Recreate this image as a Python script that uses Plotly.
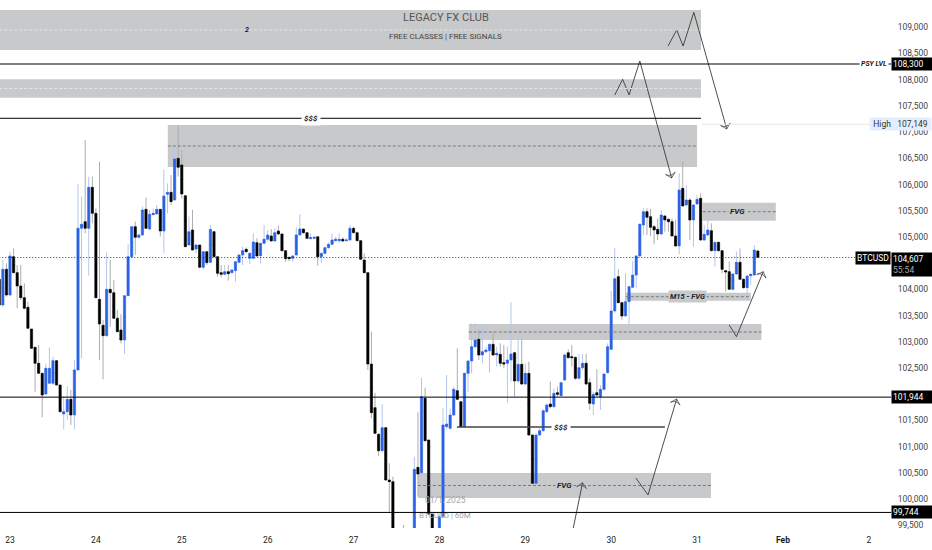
import numpy as np
import plotly.graph_objects as go

opens = [104192,103702,104383,103893,104624,104319,104065,103842,103658,103244,102894,102589,102398,102004,102207,102207,102640,102176,101622,101667,101902,101603,102462,105165,105292,105165,105947,105451,103810,103314,103117,104001,103937,103448,103225,103034,103880,104624,105197,104993,105038,105527,105152,105426,105438,105527,105114,105813,105852,105705,106500,106373,105788,104847,105133,104771,104847,104421,104720,104516,105101,104624,104319,104287,104338,104319,104357,104516,104656,104764,104592,104592,104891,104643,104879,104955,105019,104923,105114,105057,104739,104611,104592,104656,105038,105152,105082,104967,104974,105005,104624,104687,104796,104859,104929,104929,104955,104929,104942,105164,105082,104929,104560,104319,102576,101743,101234,100922,101361,100363,100331,99280,98950,99100,99000,98900,99250,100604,100503,101921,101126,99714,99281,99281,99663,101380,101349,101603,102067,101857,101380,102398,102633,102907,103047,102748,102811,102830,102951,102748,102760,102601,102589,102652,102792,102252,102569,102194,102398,101221,100299,101221,101304,101666,101813,101762,102029,101972,102271,102792,102716,102703,102303,102506,102589,102220,101813,102029,101953,102093,102411,102856,103588,104243,103747,103492,103766,104039,104274,104637,105228,105483,105387,105197,105146,105057,105400,105337,105292,105019,104828,105928,105610,105705,105324,105629,105737,104942,105038,105120,104739,104898,104739,104357,104338,104001,104294,104516,104192,104033,104262,104274,104732]
highs = [104306,104561,104497,104720,104783,104465,104465,104115,103766,103244,102907,102939,102398,102589,102894,102716,102653,102176,101953,102144,102080,102653,106011,105769,106850,106151,106151,105546,106437,103416,104707,104561,104179,103607,103524,103880,104866,105197,105292,105069,105578,105750,105515,105546,105610,105527,106291,106023,106182,106723,107136,106659,105788,105387,105515,104860,104847,104720,104720,105228,105114,104624,104465,104465,104465,104383,104529,104675,104815,104802,104700,105069,104974,104891,105228,105133,105152,105165,105216,105069,104751,104624,104656,105184,105438,105165,105095,105069,105018,105005,104700,104815,104891,105069,105005,105069,104993,104974,105228,105196,105101,104942,104687,104331,103193,102029,101253,101813,101380,100681,100426,99350,99300,99504,99250,99380,100808,101654,102315,102124,101138,99730,99400,99700,101730,102366,101730,102144,102875,101870,102411,102652,103352,103352,103225,103320,102907,102970,103193,102907,102970,102939,102907,103753,102811,103066,103047,102589,102620,101234,101253,101349,101711,101825,102239,102112,102144,102239,102779,102856,102939,102716,102767,102767,102767,102303,102048,102474,102175,102398,102970,103969,104783,104383,103766,104306,104065,104541,104656,105260,105546,105546,105534,105228,105355,105515,105419,105355,105355,105324,106214,106437,105992,105737,105629,105801,105833,105228,105355,105260,104911,104911,104751,104370,104529,104306,104720,104783,104211,104274,104306,104847,104751]
lows = [103352,103670,103861,103874,104306,103638,103797,103619,103244,102862,102048,102385,101559,101985,102195,102176,102163,101648,101330,101508,101412,101330,102449,102684,105069,104262,105260,103829,102653,102284,103098,103289,103435,103180,102971,102767,103874,104592,104656,104974,105019,105152,105133,105413,105419,105006,104688,105451,105610,105693,106151,105737,104802,104834,104739,104688,104402,104383,104465,104497,104611,104243,104230,104268,104166,104300,104147,104497,104465,104700,104484,104573,104624,104497,104866,104911,104911,104911,105038,104720,104529,104541,104529,104637,105019,105057,104955,104955,104955,104452,104497,104668,104776,104846,104910,104891,104904,104916,104929,105069,104916,104560,104306,102461,101539,101240,100821,100903,100350,99739,99150,98800,98800,98850,98700,98750,99150,100045,100458,101094,99695,99100,99050,99150,99650,101349,101329,101584,101889,101368,101361,102048,102398,102875,102652,102589,102779,102411,102729,102525,102525,102493,101838,102239,101953,102220,102175,102175,101202,100286,100280,101202,101285,101635,101730,101743,101953,101953,102258,102678,102525,102271,102283,102461,102175,101698,101603,101953,101698,102067,102398,102843,103556,103734,103416,103479,103320,104020,104020,104624,105038,105038,105019,104860,104942,105038,105101,105101,105006,104815,104669,105578,105591,104942,104815,105610,104930,104923,105019,104720,104433,104720,104306,103956,103988,103975,104274,104179,104014,103925,104084,104255,104598]
closes = [103702,104383,103893,104637,104319,104065,103842,103638,103257,102875,102589,102398,101985,102494,102494,102640,102176,101667,101667,101902,101603,102462,105165,105241,105165,105947,105451,103842,103339,103117,104001,103937,103448,103193,103034,103880,104624,105197,104993,105038,105515,105165,105432,105451,105527,105114,105782,105852,105674,106488,106329,105820,104815,105101,104751,104847,104421,104720,104510,105146,104624,104306,104287,104338,104300,104370,104529,104656,104739,104720,104688,104904,104637,104879,104955,105038,104923,105082,105057,104739,104586,104586,104637,105038,105152,105082,104974,104986,104993,104624,104687,104796,104859,104942,104955,104955,104923,104942,105164,105082,104929,104573,104319,102576,101647,101253,100922,101361,100363,100331,99281,98950,99100,99000,98900,99250,100566,100477,101953,101113,99714,99281,99150,99663,101412,101431,101603,102093,101902,101380,102398,102633,102907,103034,102748,102811,102843,102951,102748,102779,102589,102576,102652,102767,102252,102569,102194,102398,101221,100299,101221,101304,101685,101794,101762,102016,101997,102220,102748,102697,102697,102303,102506,102589,102194,101825,101997,101984,102093,102385,102907,103588,104204,103747,103492,103766,104052,104274,104637,105241,105483,105375,105184,105133,105057,105419,105324,105292,105019,104828,105896,105591,105705,105324,105610,105718,104942,105050,105133,104739,104898,104739,104382,104332,104001,104294,104516,104192,104033,104255,104287,104751,104611]

first_hour = -3
hours = np.arange(len(opens)) + first_hour
day_ticks = [0, 24, 48, 72, 96, 120, 144, 168, 192, 216, 240]
day_labels = ["23", "24", "25", "26", "27", "28", "29", "30", "31", "<b>Feb</b>", "2"]
price_ticks = list(range(99500, 110000, 500))
hidden_ticks = {102000, 104500}
price_labels = ["" if p in hidden_ticks else f"{p:,}" for p in price_ticks]

ZONE = "#c8c9cb"
zones = [
    (-3, 193.1, 108567, 109330, "#e4e4e4"),
    (-3, 193.1, 107657, 108008, "#e4e4e4"),
    (44.1, 192.0, 106335, 107136, "#77797c"),
    (193.6, 214.0, 105310, 105654, "#77797c"),
    (172.1, 207.0, 103784, 103936, "#77797c"),
    (128.2, 210.0, 103034, 103339, "#77797c"),
    (114.0, 195.9, 100019, 100496, "#77797c"),
]
levels = [(-3, 246.2, 108300), (-3, 246.2, 101944), (-3, 246.2, 99744), (-3, 193.1, 107264)]
paths = [
    ([183.9, 186.3, 188.1, 191.1, 200.3], [108643, 108949, 108643, 109286, 107060]),
    ([169.0, 171.2, 173.0, 176.0, 184.9], [107709, 108008, 107709, 108357, 106125]),
    ([201.0, 203.0, 210.5], [103320, 103097, 104337]),
    ([174.9, 178.3, 186.3], [100401, 100077, 101908]),
    ([157.3, 160.0], [99409, 100311]),
]

BLUE, BLACK = "#2a62e6", "#000000"
o, h, l, c = map(np.array, (opens, highs, lows, closes))
up = c >= o
mid = (o + c) / 2
sign = np.where(up, 1, -1)

fig = go.Figure()
fig.add_trace(go.Candlestick(
    x=hours, open=mid - sign, close=mid + sign, high=h, low=l,
    increasing=dict(line=dict(color="#b4c6ee", width=1), fillcolor="#b4c6ee"),
    decreasing=dict(line=dict(color="#adadad", width=1), fillcolor="#adadad"),
    whiskerwidth=0, hoverinfo="skip", showlegend=False))
fig.add_trace(go.Candlestick(
    x=hours, open=o, close=c, high=np.maximum(o, c), low=np.minimum(o, c),
    increasing=dict(line=dict(color=BLUE, width=0.6), fillcolor=BLUE),
    decreasing=dict(line=dict(color=BLACK, width=0.6), fillcolor=BLACK),
    whiskerwidth=0, hoverinfo="skip", showlegend=False))

for px_, py_ in paths:
    n = len(px_)
    fig.add_trace(go.Scatter(
        x=px_, y=py_, mode="lines+markers", showlegend=False, hoverinfo="skip",
        line=dict(color="#3a3a3a", width=0.9),
        marker=dict(symbol="arrow-wide-open", angleref="previous", color="#3a3a3a",
                    size=[0] * (n - 1) + [7], line=dict(color="#3a3a3a", width=1))))

shapes = []
for x0, x1, y0, y1, dash_col in zones:
    shapes.append(dict(type="rect", x0=x0, x1=x1, y0=y0, y1=y1, layer="below",
                       fillcolor=ZONE, line=dict(width=0)))
    m = (y0 + y1) / 2
    shapes.append(dict(type="line", x0=x0, x1=x1, y0=m, y1=m,
                       line=dict(color=dash_col, width=1, dash="3px,2px")))
for x0, x1, y in levels:
    shapes.append(dict(type="line", x0=x0, x1=x1, y0=y, y1=y, line=dict(color="#000", width=1)))
shapes.append(dict(type="line", x0=124.9, x1=183.0, y0=101374, y1=101374, line=dict(color="#444", width=1.4)))
shapes.append(dict(type="line", x0=-3, x1=246.2, y0=104607, y1=104607, line=dict(color="#333", width=1, dash="1px,2px")))
shapes.append(dict(type="line", x0=193.3, x1=246.2, y0=107149, y1=107149, line=dict(color="#e6e6e6", width=1)))

FONT = "Roboto, Arial, sans-serif"
def note(x, y, text, size=8, color="#222", bg=None, **kw):
    return dict(x=x, y=y, text=text, showarrow=False, bgcolor=bg, borderpad=kw.pop("pad", 1),
                font=dict(family=FONT, size=size, color=color), **kw)

def tag(y, text, **kw):
    return dict(xref="paper", x=1, y=y, text=text, showarrow=False, xanchor="left",
                bgcolor="#000", width=39, borderpad=1, align="left",
                font=dict(family=FONT, size=8.5, color="#fff"), **kw)

annotations = [
    note(121.8, 109178, "LEGACY FX CLUB", size=11, color="#555"),
    note(121.8, 108834, "FREE CLASSES | FREE SIGNALS", size=8, color="#444"),
    note(66.2, 108958, "<b><i>2</i></b>", size=7),
    note(84.1, 107264, "<b><i>$$$</i></b>", bg="#fff", pad=2),
    note(154, 101374, "<b><i>$$$</i></b>", bg="#fff", pad=2),
    note(203.4, 105486, "<b><i>FVG</i></b>", bg=ZONE),
    note(189.4, 103860, "<b><i>M15 - FVG</i></b>", bg=ZONE, size=7.5),
    note(155, 100255, "<b><i>FVG</i></b>", bg=ZONE),
    note(241.4, 108300, "<b><i>PSY LVL</i></b>", bg="#fff", size=7),
    note(121.8, 99981, "01/1/2025", size=8.5, color="#a5a5a5"),
    note(121.5, 99695, "BTCUSD | 60M", size=8, color="#a5a5a5"),
    tag(108300, "108,300"),
    tag(101944, "101,944"),
    tag(99744, "99,744"),
    tag(104713, "104,607<br><span style='color:#aaa'>55:54</span>", yanchor="top"),
    dict(xref="paper", x=1, y=104607, text="BTCUSD", showarrow=False, xanchor="right", bgcolor="#000",
         borderpad=1, font=dict(family=FONT, size=8.5, color="#fff")),
    dict(xref="paper", x=1, y=107149, text="High&nbsp;&nbsp;&nbsp;107,149", showarrow=False, xanchor="left",
         xshift=-22, bgcolor="#e3effd", borderpad=1, width=59, font=dict(family=FONT, size=8.5, color="#333")),
]

fig.update_layout(
    width=932, height=550,
    margin=dict(l=0, r=41, t=0, b=22),
    paper_bgcolor="#fff", plot_bgcolor="#fff",
    boxgap=0.1, showlegend=False,
    shapes=shapes, annotations=annotations,
    font=dict(family=FONT, size=8.5, color="#333"),
    xaxis=dict(range=[-2.8, 246.2], rangeslider=dict(visible=False), showgrid=False, zeroline=False,
               tickmode="array", tickvals=day_ticks, ticktext=day_labels,
               ticks="outside", ticklen=4, tickcolor="rgba(0,0,0,0)", showline=False,
               tickfont=dict(family=FONT, size=8.5, color="#222")),
    yaxis=dict(side="right", range=[99447, 109521], showgrid=False, zeroline=False,
               tickmode="array", tickvals=price_ticks, ticktext=price_labels,
               ticks="outside", ticklen=4, tickcolor="rgba(0,0,0,0)", showline=False,
               tickfont=dict(family=FONT, size=8.5, color="#444")),
)

fig.write_html("out.html", config=dict(displayModeBar=False),
               post_script="document.body.style.margin='0';document.documentElement.style.overflow='hidden';")
